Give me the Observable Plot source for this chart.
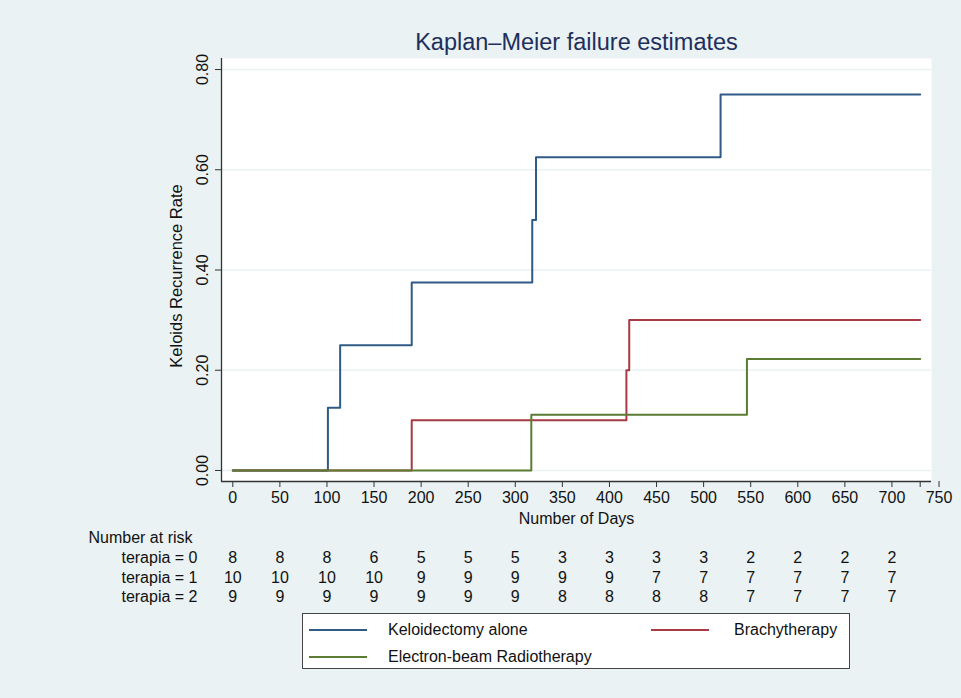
<!DOCTYPE html>
<html>
<head>
<meta charset="utf-8">
<script src="https://cdn.jsdelivr.net/npm/d3@7"></script>
<script src="https://cdn.jsdelivr.net/npm/@observablehq/plot@0.6"></script>
<style>
  html, body { margin: 0; padding: 0; background: #eaf2f3; }
  #wrap { position: relative; width: 961px; height: 698px; background: #eaf2f3; font-family: "Liberation Sans", Arial, Helvetica, sans-serif; }
  #legend { position: absolute; left: 302px; top: 613px; width: 548px; height: 56px; background: #fff; border: 1px solid #444; box-sizing: border-box; }
  .li { position: absolute; font-size: 16px; color: #111; line-height: 18px; }
  .ls { position: absolute; height: 0; border-top: 2px solid; }
</style>
</head>
<body>
<div id="wrap"></div>
<script>
// ---- data ----
const title = "Kaplan–Meier failure estimates";
const yLabel = "Keloids Recurrence Rate";
const xLabel = "Number of Days";
const seriesNames = ["Keloidectomy alone", "Brachytherapy", "Electron-beam Radiotherapy"];
const seriesColors = ["#2f5b86", "#a83a45", "#5b7c33"];

// step points (time, cumulative failure)
const keloidTime = [0, 101, 114, 190, 318, 322, 518, 730];
const keloidRate = [0, 0.125, 0.25, 0.375, 0.5, 0.625, 0.75, 0.75];
const brachyTime = [0, 190, 418, 421, 730];
const brachyRate = [0, 0.1, 0.2, 0.3, 0.3];
const electronTime = [0, 317, 546, 730];
const electronRate = [0, 0.1111, 0.2222, 0.2222];

const xTicks = [0, 50, 100, 150, 200, 250, 300, 350, 400, 450, 500, 550, 600, 650, 700, 750];
const yTicks = [0, 0.2, 0.4, 0.6, 0.8];
const riskTimes = [0, 50, 100, 150, 200, 250, 300, 350, 400, 450, 500, 550, 600, 650, 700];
const riskLabels = ["terapia = 0", "terapia = 1", "terapia = 2"];
const risk0 = [8, 8, 8, 6, 5, 5, 5, 3, 3, 3, 3, 2, 2, 2, 2];
const risk1 = [10, 10, 10, 10, 9, 9, 9, 9, 9, 7, 7, 7, 7, 7, 7];
const risk2 = [9, 9, 9, 9, 9, 9, 9, 8, 8, 8, 8, 7, 7, 7, 7];

// ---- build tables ----
const steps = [];
[[keloidTime, keloidRate], [brachyTime, brachyRate], [electronTime, electronRate]].forEach(([t, r], i) => {
  t.forEach((v, j) => steps.push({time: v, rate: r[j], group: seriesNames[i]}));
});
const riskSets = [risk0, risk1, risk2].map(arr => arr.map((n, j) => ({time: riskTimes[j], n})));
const rowDy = [76, 96, 115];

const font = "Liberation Sans, Arial, Helvetica, sans-serif";
const txt = {fontSize: 16, fill: "#111", lineAnchor: "middle"};

const chart = Plot.plot({
  width: 961,
  height: 698,
  marginLeft: 221,
  marginRight: 30,
  marginTop: 58,
  marginBottom: 217,
  style: {background: "transparent", fontFamily: font, fontSize: "16px", color: "#111"},
  x: {domain: [-12, 742], axis: null},
  y: {domain: [-0.022, 0.822], axis: null},
  color: {domain: seriesNames, range: seriesColors},
  marks: [
    Plot.frame({fill: "#fff", stroke: "none"}),
    Plot.ruleY(yTicks, {stroke: "#eaf2f3", strokeWidth: 1.6}),
    Plot.line(steps, {x: "time", y: "rate", z: "group", stroke: "group", curve: "step-after", strokeWidth: 2}),
    // axis lines
    Plot.ruleX([-12], {stroke: "#333", strokeWidth: 1.3}),
    Plot.ruleY([-0.022], {stroke: "#333", strokeWidth: 1.3}),
    // y ticks + labels
    Plot.axisY(yTicks, {tickSize: 6, tickFormat: () => "", stroke: "#333", label: null}),
    Plot.text(yTicks, {y: d => d, text: d => d.toFixed(2), frameAnchor: "left", dx: -19, rotate: -90, textAnchor: "middle", ...txt}),
    Plot.text([yLabel], {frameAnchor: "left", dx: -45, dy: 6, rotate: -90, textAnchor: "middle", ...txt, fontSize: 16.5}),
    // x ticks + labels
    Plot.axisX(xTicks.concat([730]), {tickSize: 6, tickPadding: 4, tickFormat: d => d === 730 ? "" : String(d), fontSize: 16, stroke: "#333", fill: "#111", label: null}),
    Plot.text([xLabel], {frameAnchor: "bottom", dy: 37, ...txt}),
    // title
    Plot.text([title], {frameAnchor: "top", dy: -16, ...txt, fontSize: 23.5, fill: "#1e2f5e"}),
    // number at risk
    Plot.text(["Number at risk"], {frameAnchor: "bottom-left", dx: -133, dy: 56, textAnchor: "start", ...txt}),
    ...riskLabels.map((lab, i) => Plot.text([lab], {frameAnchor: "bottom-left", dx: -24, dy: rowDy[i], textAnchor: "end", ...txt})),
    ...riskSets.map((set, i) => Plot.text(set, {x: "time", text: "n", frameAnchor: "bottom", dy: rowDy[i], ...txt}))
  ]
});

const wrap = document.getElementById("wrap");
chart.style.position = "absolute";
chart.style.left = "0px";
chart.style.top = "0px";
wrap.appendChild(chart);

// legend
const legend = document.createElement("div");
legend.id = "legend";
const items = [
  {name: seriesNames[0], color: seriesColors[0], lx: 6, tx: 85, y: 16},
  {name: seriesNames[1], color: seriesColors[1], lx: 348, tx: 431, y: 16},
  {name: seriesNames[2], color: seriesColors[2], lx: 6, tx: 85, y: 43}
];
items.forEach(it => {
  const s = document.createElement("div");
  s.className = "ls";
  s.style.left = it.lx + "px";
  s.style.width = "58px";
  s.style.top = (it.y - 1) + "px";
  s.style.borderTopColor = it.color;
  legend.appendChild(s);
  const t = document.createElement("div");
  t.className = "li";
  t.textContent = it.name;
  t.style.left = it.tx + "px";
  t.style.top = (it.y - 9) + "px";
  legend.appendChild(t);
});
wrap.appendChild(legend);
</script>
</body>
</html>
